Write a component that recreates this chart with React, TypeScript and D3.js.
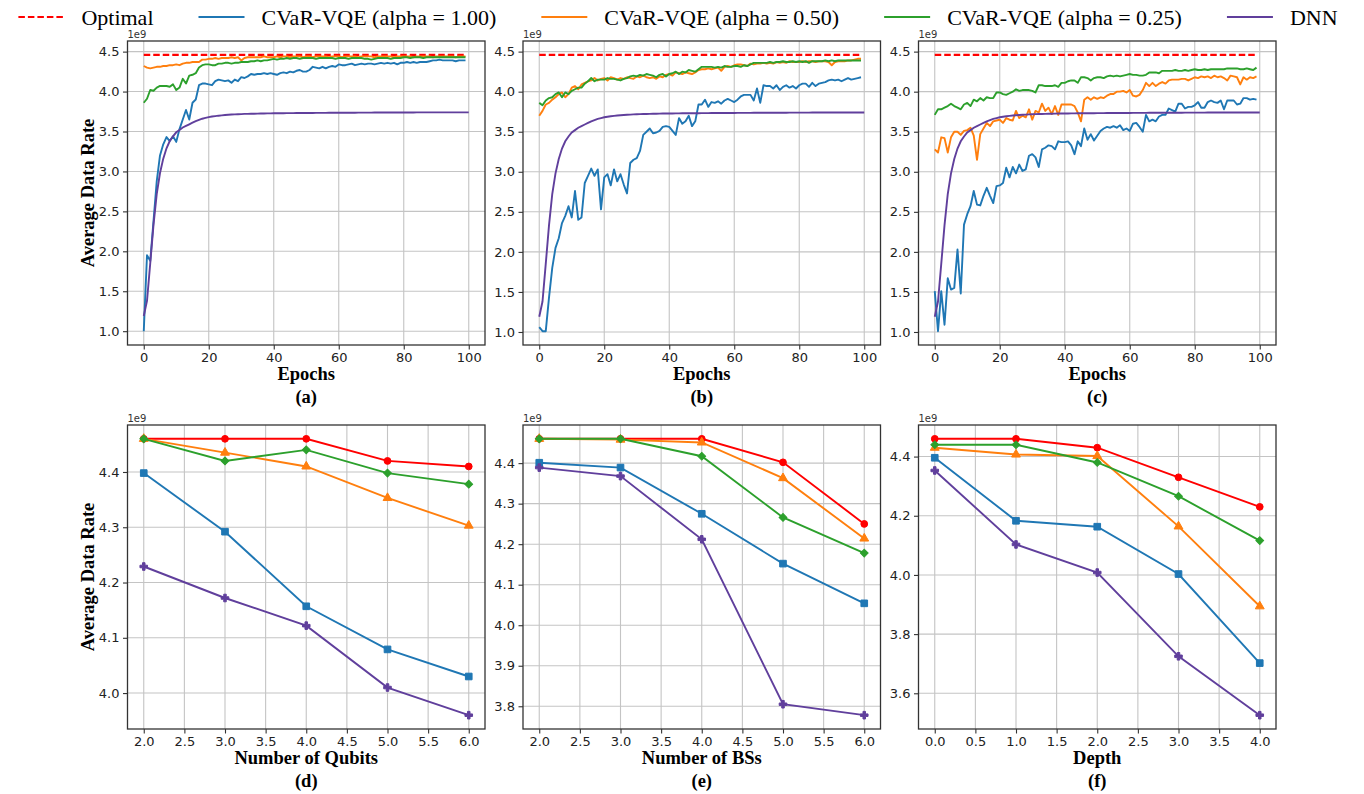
import React, { useEffect, useRef } from 'react';
import * as d3 from 'd3';

// ---- data (values in units of 1e9) ----
const OPTIMAL_RATE = 4.46;

// DNN training curve, same in panels (a)-(c), epochs 0..100
const DNN_CURVE = [
  1.19, 1.38, 1.85, 2.33, 2.72, 2.98, 3.16, 3.29, 3.38, 3.44,
  3.49, 3.52, 3.55, 3.57, 3.59, 3.61, 3.63, 3.645, 3.66, 3.67,
  3.68, 3.687, 3.693, 3.698, 3.702, 3.706, 3.709, 3.712, 3.714, 3.716,
  3.718, 3.72, 3.721, 3.722, 3.723, 3.724, 3.725, 3.726, 3.727, 3.727,
  3.728, 3.728, 3.729, 3.729, 3.73, 3.73, 3.73, 3.731, 3.731, 3.731,
  3.732, 3.732, 3.732, 3.733, 3.733, 3.733, 3.733, 3.734, 3.734, 3.734,
  3.734, 3.735, 3.735, 3.735, 3.735, 3.735, 3.736, 3.736, 3.736, 3.736,
  3.736, 3.737, 3.737, 3.737, 3.737, 3.737, 3.737, 3.738, 3.738, 3.738,
  3.738, 3.738, 3.738, 3.738, 3.739, 3.739, 3.739, 3.739, 3.739, 3.739,
  3.739, 3.739, 3.74, 3.74, 3.74, 3.74, 3.74, 3.74, 3.74, 3.74, 3.74,
];

// panel (a)
const BLUE_A = [
  1.00, 1.95, 1.88, 2.38, 2.88, 3.20, 3.34, 3.43, 3.38, 3.44,
  3.37, 3.53, 3.65, 3.77, 3.65, 3.86, 3.90, 4.08, 4.10, 4.10,
  4.09, 4.08, 4.13, 4.15, 4.14, 4.13, 4.14, 4.11, 4.15, 4.13,
  4.18, 4.17, 4.19, 4.22, 4.21, 4.22, 4.22, 4.23, 4.22, 4.23,
  4.22, 4.21, 4.23, 4.24, 4.23, 4.25, 4.24, 4.26, 4.27, 4.25,
  4.25, 4.27, 4.31, 4.30, 4.29, 4.31, 4.29, 4.31, 4.32, 4.31,
  4.34, 4.33, 4.33, 4.34, 4.35, 4.33, 4.34, 4.35, 4.34, 4.35,
  4.35, 4.34, 4.35, 4.36, 4.35, 4.36, 4.35, 4.36, 4.34, 4.36,
  4.36, 4.37, 4.36, 4.37, 4.36, 4.37, 4.37, 4.37, 4.38, 4.39,
  4.39, 4.40, 4.39, 4.39, 4.39, 4.39, 4.38, 4.39, 4.39, 4.39,
];
const ORANGE_A = [
  4.32, 4.30, 4.29, 4.30, 4.31, 4.31, 4.32, 4.32, 4.33, 4.33,
  4.34, 4.33, 4.35, 4.36, 4.36, 4.37, 4.37, 4.37, 4.40, 4.40,
  4.41, 4.41, 4.42, 4.41, 4.42, 4.42, 4.42, 4.43, 4.42, 4.43,
  4.39, 4.42, 4.43, 4.43, 4.43, 4.43, 4.43, 4.44, 4.43, 4.43,
  4.43, 4.44, 4.43, 4.44, 4.44, 4.43, 4.44, 4.44, 4.44, 4.43,
  4.44, 4.44, 4.43, 4.44, 4.44, 4.44, 4.44, 4.43, 4.44, 4.44,
  4.44, 4.43, 4.44, 4.44, 4.44, 4.44, 4.43, 4.44, 4.44, 4.44,
  4.44, 4.43, 4.44, 4.44, 4.44, 4.44, 4.44, 4.43, 4.44, 4.44,
  4.44, 4.44, 4.44, 4.43, 4.44, 4.44, 4.44, 4.44, 4.44, 4.43,
  4.44, 4.44, 4.44, 4.44, 4.44, 4.44, 4.43, 4.44, 4.44, 4.44,
];
const GREEN_A = [
  3.86, 3.91, 4.02, 4.01, 4.05, 4.07, 4.07, 4.07, 4.06, 4.09,
  4.02, 4.05, 4.16, 4.10, 4.20, 4.21, 4.23, 4.30, 4.33, 4.34,
  4.34, 4.33, 4.33, 4.35, 4.35, 4.36, 4.36, 4.35, 4.36, 4.36,
  4.37, 4.37, 4.37, 4.38, 4.38, 4.39, 4.38, 4.39, 4.39, 4.40,
  4.41, 4.40, 4.41, 4.41, 4.42, 4.41, 4.42, 4.42, 4.41, 4.42,
  4.42, 4.42, 4.42, 4.41, 4.42, 4.42, 4.42, 4.42, 4.42, 4.41,
  4.42, 4.42, 4.42, 4.41, 4.42, 4.42, 4.42, 4.42, 4.41, 4.41,
  4.40, 4.41, 4.42, 4.42, 4.42, 4.42, 4.41, 4.42, 4.42, 4.42,
  4.43, 4.43, 4.42, 4.43, 4.43, 4.43, 4.42, 4.43, 4.43, 4.43,
  4.43, 4.43, 4.43, 4.43, 4.43, 4.43, 4.43, 4.43, 4.43, 4.43,
];

// panel (b)
const BLUE_B = [
  1.06, 1.01, 1.01, 1.43, 1.80, 2.05, 2.17, 2.36, 2.45, 2.57,
  2.43, 2.76, 2.40, 2.43, 2.86, 2.95, 3.04, 2.95, 3.03, 2.53,
  2.93, 2.97, 2.83, 3.03, 2.88, 2.97, 2.84, 2.73, 3.11, 3.15,
  3.17, 3.26, 3.46, 3.50, 3.54, 3.48, 3.49, 3.51, 3.56, 3.57,
  3.56, 3.51, 3.46, 3.67, 3.60, 3.63, 3.70, 3.57, 3.63, 3.84,
  3.84, 3.90, 3.81, 3.87, 3.86, 3.88, 3.85, 3.89, 3.91, 3.89,
  3.87, 3.90, 3.94, 3.96, 3.96, 3.96, 3.89, 4.04, 3.86, 4.08,
  4.07, 4.07, 4.04, 4.08, 4.02, 4.06, 4.08, 4.05, 4.07, 4.04,
  4.08, 4.10, 4.10, 4.06, 4.11, 4.07, 4.10, 4.11, 4.12, 4.14,
  4.15, 4.14, 4.15, 4.13, 4.15, 4.17, 4.15, 4.16, 4.17, 4.18,
];
const ORANGE_B = [
  3.70, 3.76, 3.84, 3.86, 3.90, 3.93, 3.97, 3.99, 3.93, 3.97,
  4.05, 4.07, 4.03, 4.09, 4.11, 4.13, 4.14, 4.17, 4.14, 4.16,
  4.17, 4.14, 4.18, 4.17, 4.15, 4.17, 4.16, 4.18, 4.17, 4.16,
  4.19, 4.18, 4.20, 4.18, 4.17, 4.18, 4.16, 4.19, 4.18, 4.21,
  4.22, 4.20, 4.24, 4.23, 4.22, 4.24, 4.23, 4.22, 4.24, 4.27,
  4.28, 4.28, 4.29, 4.28, 4.29, 4.30, 4.26, 4.31, 4.32, 4.31,
  4.33, 4.34, 4.34, 4.33, 4.32, 4.35, 4.34, 4.35, 4.35, 4.36,
  4.35, 4.36, 4.35, 4.37, 4.36, 4.37, 4.36, 4.38, 4.37, 4.37,
  4.37, 4.38, 4.37, 4.38, 4.38, 4.37, 4.38, 4.38, 4.38, 4.37,
  4.33, 4.37, 4.38, 4.38, 4.38, 4.39, 4.39, 4.40, 4.41, 4.41,
];
const GREEN_B = [
  3.86, 3.83, 3.89, 3.92, 3.93, 3.97, 3.99, 3.93, 3.99, 3.97,
  4.01, 4.03, 4.05, 4.05, 4.10, 4.13, 4.17, 4.13, 4.15, 4.15,
  4.15, 4.17, 4.16, 4.16, 4.15, 4.14, 4.16, 4.17, 4.19, 4.20,
  4.19, 4.21, 4.20, 4.22, 4.21, 4.20, 4.18, 4.21, 4.22, 4.19,
  4.22, 4.23, 4.25, 4.22, 4.25, 4.24, 4.27, 4.26, 4.25, 4.28,
  4.31, 4.31, 4.31, 4.31, 4.30, 4.31, 4.30, 4.32, 4.31, 4.31,
  4.32, 4.32, 4.31, 4.33, 4.32, 4.34, 4.36, 4.36, 4.36, 4.36,
  4.36, 4.37, 4.36, 4.37, 4.37, 4.38, 4.37, 4.37, 4.38, 4.37,
  4.38, 4.37, 4.38, 4.36, 4.38, 4.38, 4.38, 4.38, 4.39, 4.38,
  4.39, 4.38, 4.39, 4.39, 4.39, 4.39, 4.39, 4.39, 4.39, 4.39,
];

// panel (c)
const BLUE_C = [
  1.51, 1.01, 1.51, 1.09, 1.67, 1.53, 1.55, 2.03, 1.48, 2.34,
  2.47, 2.57, 2.76, 2.59, 2.58, 2.70, 2.80, 2.70, 2.61, 2.82,
  2.83, 2.86, 3.05, 2.93, 3.06, 2.98, 3.09, 3.01, 3.03, 3.20,
  3.22, 3.18, 3.06, 3.28, 3.30, 3.33, 3.32, 3.28, 3.38, 3.37,
  3.37, 3.38, 3.33, 3.22, 3.38, 3.32, 3.54, 3.40, 3.47, 3.39,
  3.45, 3.51, 3.54, 3.56, 3.55, 3.57, 3.55, 3.58, 3.52, 3.54,
  3.51, 3.60, 3.61, 3.56, 3.50, 3.71, 3.63, 3.65, 3.63, 3.69,
  3.71, 3.71, 3.79, 3.77, 3.75, 3.85, 3.85, 3.79, 3.81, 3.81,
  3.83, 3.87, 3.80, 3.80, 3.87, 3.89, 3.87, 3.86, 3.89, 3.78,
  3.89, 3.89, 3.89, 3.84, 3.85, 3.92, 3.92, 3.90, 3.91, 3.90,
];
const ORANGE_C = [
  3.28, 3.24, 3.43, 3.42, 3.24, 3.43, 3.50, 3.50, 3.46, 3.51,
  3.52, 3.55, 3.45, 3.15, 3.47, 3.54, 3.61, 3.57, 3.63, 3.64,
  3.65, 3.61, 3.67, 3.65, 3.64, 3.76, 3.67, 3.70, 3.68, 3.78,
  3.65, 3.76, 3.74, 3.85, 3.76, 3.80, 3.72, 3.82, 3.71, 3.84,
  3.84, 3.84, 3.84, 3.82, 3.74, 3.63, 3.90, 3.93, 3.90, 3.93,
  3.91, 3.93, 3.92, 3.95, 3.97, 3.97, 4.00, 4.00, 4.01, 3.99,
  4.02, 3.95, 3.94, 3.96, 4.02, 4.11, 4.07, 4.11, 4.07, 4.10,
  4.12, 4.10, 4.14, 4.15, 4.15, 4.15, 4.16, 4.16, 4.14, 4.16,
  4.18, 4.17, 4.19, 4.18, 4.19, 4.17, 4.20, 4.18, 4.19, 4.17,
  4.14, 4.20, 4.19, 4.18, 4.09, 4.18, 4.15, 4.18, 4.17, 4.19,
];
const GREEN_C = [
  3.71, 3.78, 3.78, 3.80, 3.82, 3.85, 3.82, 3.80, 3.78, 3.84,
  3.86, 3.82, 3.90, 3.88, 3.92, 3.89, 3.93, 3.92, 3.92, 3.99,
  3.99, 3.97, 3.96, 3.98, 4.00, 4.03, 4.01, 4.02, 4.02, 4.02,
  4.01, 3.99, 4.08, 4.08, 4.07, 4.07, 4.07, 4.08, 4.06, 4.11,
  4.11, 4.13, 4.14, 4.14, 4.11, 4.18, 4.18, 4.17, 4.14, 4.17,
  4.18, 4.18, 4.17, 4.19, 4.20, 4.19, 4.20, 4.19, 4.20, 4.21,
  4.22, 4.21, 4.21, 4.20, 4.20, 4.21, 4.24, 4.24, 4.24, 4.23,
  4.26, 4.26, 4.26, 4.26, 4.27, 4.26, 4.26, 4.27, 4.26, 4.27,
  4.28, 4.27, 4.27, 4.28, 4.27, 4.28, 4.28, 4.28, 4.28, 4.28,
  4.29, 4.29, 4.29, 4.29, 4.28, 4.28, 4.29, 4.28, 4.27, 4.30,
];

// panel (d): number of qubits
const QUBITS = [2, 3, 4, 5, 6];
const OPT_D = [4.46, 4.46, 4.46, 4.42, 4.41];
const BLUE_D = [4.398, 4.292, 4.157, 4.079, 4.030];
const ORANGE_D = [4.46, 4.435, 4.41, 4.353, 4.303];
const GREEN_D = [4.46, 4.42, 4.44, 4.398, 4.378];
const DNN_D = [4.229, 4.172, 4.122, 4.010, 3.960];

// panel (e): number of BSs
const BSS = [2, 3, 4, 5, 6];
const OPT_E = [4.46, 4.46, 4.46, 4.402, 4.25];
const BLUE_E = [4.401, 4.389, 4.275, 4.152, 4.054];
const ORANGE_E = [4.46, 4.458, 4.451, 4.363, 4.214];
const GREEN_E = [4.46, 4.46, 4.417, 4.266, 4.178];
const DNN_E = [4.389, 4.368, 4.212, 3.805, 3.778];

// panel (f): depth
const DEPTH = [0, 1, 2, 3, 4];
const OPT_F = [4.46, 4.46, 4.43, 4.33, 4.23];
const BLUE_F = [4.396, 4.183, 4.163, 4.003, 3.702];
const ORANGE_F = [4.43, 4.407, 4.402, 4.164, 3.894];
const GREEN_F = [4.44, 4.44, 4.38, 4.266, 4.116];
const DNN_F = [4.353, 4.103, 4.008, 3.725, 3.526];

// tick labels
const EPOCH_TICKS = [0, 20, 40, 60, 80, 100];
const RATE_TICKS = [1.0, 1.5, 2.0, 2.5, 3.0, 3.5, 4.0, 4.5];
const QUBIT_TICKS = [2.0, 2.5, 3.0, 3.5, 4.0, 4.5, 5.0, 5.5, 6.0];
const DEPTH_TICKS = [0.0, 0.5, 1.0, 1.5, 2.0, 2.5, 3.0, 3.5, 4.0];
const Y_TICKS_D = [4.0, 4.1, 4.2, 4.3, 4.4];
const Y_TICKS_E = [3.8, 3.9, 4.0, 4.1, 4.2, 4.3, 4.4];
const Y_TICKS_F = [3.6, 3.8, 4.0, 4.2, 4.4];

const SERIES_LABELS = ['Optimal', 'CVaR-VQE (alpha = 1.00)', 'CVaR-VQE (alpha = 0.50)', 'CVaR-VQE (alpha = 0.25)', 'DNN'];
const SERIES_COLORS = ['#ff0000', '#1f77b4', '#ff7f0e', '#2ca02c', '#603f9c'];

// ---- layout ----
const FIG_W = 1364;
const FIG_H = 794;
const COL_LEFT = [127.5, 523, 918.5];
const PANEL_W = 357.5;
const ROW_TOP = [41, 425];
const PANEL_H = 304;
const SERIF = '"Liberation Serif", "Times New Roman", serif';
const SANS = '"DejaVu Sans", sans-serif';

type Sel = d3.Selection<SVGGElement, unknown, null, undefined>;

const padDomain = (vals: number[]): [number, number] => {
  const [lo, hi] = d3.extent(vals) as [number, number];
  const p = (hi - lo) * 0.05;
  return [lo - p, hi + p];
};

function drawGrid(g: Sel, x: d3.ScaleLinear<number, number>, y: d3.ScaleLinear<number, number>, xt: number[], yt: number[]) {
  g.append('g').selectAll('line').data(xt).join('line')
    .attr('x1', d => x(d)).attr('x2', d => x(d))
    .attr('y1', 0).attr('y2', PANEL_H)
    .attr('stroke', '#c4c4c4').attr('stroke-width', 1.1);
  g.append('g').selectAll('line').data(yt).join('line')
    .attr('x1', 0).attr('x2', PANEL_W)
    .attr('y1', d => y(d)).attr('y2', d => y(d))
    .attr('stroke', '#c4c4c4').attr('stroke-width', 1.1);
}

function drawFrame(
  g: Sel, x: d3.ScaleLinear<number, number>, y: d3.ScaleLinear<number, number>,
  xt: number[], yt: number[], xFmt: (d: number) => string, yFmt: (d: number) => string,
  xLabel: string, caption: string, yLabel: string | null
) {
  const xa = g.append('g')
    .attr('transform', `translate(0,${PANEL_H})`)
    .call(d3.axisBottom(x).tickValues(xt).tickFormat(d => xFmt(d as number)).tickSize(4.5).tickPadding(3.5));
  const ya = g.append('g')
    .call(d3.axisLeft(y).tickValues(yt).tickFormat(d => yFmt(d as number)).tickSize(4.5).tickPadding(3.5));
  [xa, ya].forEach(a => {
    a.select('.domain').remove();
    a.attr('font-family', SANS).attr('font-size', 13);
    a.selectAll('line').attr('stroke', '#333').attr('stroke-width', 1.1);
    a.selectAll('text').attr('fill', '#222');
  });

  g.append('rect')
    .attr('width', PANEL_W).attr('height', PANEL_H)
    .attr('fill', 'none').attr('stroke', '#333').attr('stroke-width', 1.3);

  g.append('text')
    .attr('x', 0).attr('y', -3)
    .attr('font-family', SANS).attr('font-size', 10).attr('fill', '#333')
    .text('1e9');

  g.append('text')
    .attr('x', PANEL_W / 2).attr('y', PANEL_H + 35)
    .attr('text-anchor', 'middle')
    .attr('font-family', SERIF).attr('font-weight', 'bold').attr('font-size', 18.5)
    .text(xLabel);

  g.append('text')
    .attr('x', PANEL_W / 2).attr('y', PANEL_H + 58)
    .attr('text-anchor', 'middle')
    .attr('font-family', SERIF).attr('font-weight', 'bold').attr('font-size', 18.5)
    .text(caption);

  if (yLabel) {
    g.append('text')
      .attr('transform', `translate(-34,${PANEL_H / 2}) rotate(-90)`)
      .attr('text-anchor', 'middle')
      .attr('font-family', SERIF).attr('font-weight', 'bold').attr('font-size', 18.5)
      .text(yLabel);
  }
}

const App: React.FC = () => {
  const svgRef = useRef<SVGSVGElement>(null);

  useEffect(() => {
    if (!svgRef.current) return;
    const svg = d3.select(svgRef.current);
    svg.selectAll('*').remove();

    svg.append('rect').attr('width', FIG_W).attr('height', FIG_H).attr('fill', '#fff');

    // ---- top row: training curves ----
    const topPanels = [
      { caption: '(a)', series: [BLUE_A, ORANGE_A, GREEN_A] },
      { caption: '(b)', series: [BLUE_B, ORANGE_B, GREEN_B] },
      { caption: '(c)', series: [BLUE_C, ORANGE_C, GREEN_C] },
    ];

    topPanels.forEach((p, i) => {
      const g = svg.append('g').attr('transform', `translate(${COL_LEFT[i]},${ROW_TOP[0]})`) as unknown as Sel;
      const xMax = DNN_CURVE.length - 1;
      const x = d3.scaleLinear().domain([-xMax * 0.05, xMax * 1.05]).range([0, PANEL_W]);
      const allY = [OPTIMAL_RATE, ...DNN_CURVE, ...p.series.flat()];
      const y = d3.scaleLinear().domain(padDomain(allY)).range([PANEL_H, 0]);

      drawGrid(g, x, y, EPOCH_TICKS, RATE_TICKS);

      const line = d3.line<number>().x((_, k) => x(k)).y(d => y(d));
      const optimal = p.series[0].map(() => OPTIMAL_RATE);

      g.append('path').datum(optimal)
        .attr('d', line).attr('fill', 'none')
        .attr('stroke', SERIES_COLORS[0]).attr('stroke-width', 2.2)
        .attr('stroke-dasharray', '6.5,3');

      p.series.forEach((s, k) => {
        g.append('path').datum(s)
          .attr('d', line).attr('fill', 'none')
          .attr('stroke', SERIES_COLORS[k + 1]).attr('stroke-width', 1.9)
          .attr('stroke-linejoin', 'round');
      });

      g.append('path').datum(DNN_CURVE)
        .attr('d', line).attr('fill', 'none')
        .attr('stroke', SERIES_COLORS[4]).attr('stroke-width', 1.9);

      drawFrame(g, x, y, EPOCH_TICKS, RATE_TICKS, d => String(d), d3.format('.1f'),
        'Epochs', p.caption, i === 0 ? 'Average Data Rate' : null);
    });

    // ---- bottom row: parameter sweeps ----
    const markerSymbols = [d3.symbolCircle, d3.symbolSquare, d3.symbolTriangle, d3.symbolSquare, d3.symbolCross];
    const markerSizes = [36, 44, 34, 30, 32];
    const markerRotate = [0, 0, 0, 45, 0];

    const bottomPanels = [
      { caption: '(d)', xLabel: 'Number of Qubits', xs: QUBITS, xt: QUBIT_TICKS, yt: Y_TICKS_D,
        series: [OPT_D, BLUE_D, ORANGE_D, GREEN_D, DNN_D] },
      { caption: '(e)', xLabel: 'Number of BSs', xs: BSS, xt: QUBIT_TICKS, yt: Y_TICKS_E,
        series: [OPT_E, BLUE_E, ORANGE_E, GREEN_E, DNN_E] },
      { caption: '(f)', xLabel: 'Depth', xs: DEPTH, xt: DEPTH_TICKS, yt: Y_TICKS_F,
        series: [OPT_F, BLUE_F, ORANGE_F, GREEN_F, DNN_F] },
    ];

    bottomPanels.forEach((p, i) => {
      const g = svg.append('g').attr('transform', `translate(${COL_LEFT[i]},${ROW_TOP[1]})`) as unknown as Sel;
      const x = d3.scaleLinear().domain(padDomain(p.xs)).range([0, PANEL_W]);
      const y = d3.scaleLinear().domain(padDomain(p.series.flat())).range([PANEL_H, 0]);

      drawGrid(g, x, y, p.xt, p.yt);

      const line = d3.line<number>().x((_, k) => x(p.xs[k])).y(d => y(d));

      p.series.forEach((s, k) => {
        g.append('path').datum(s)
          .attr('d', line).attr('fill', 'none')
          .attr('stroke', SERIES_COLORS[k]).attr('stroke-width', 1.9);

        const sym = d3.symbol().type(markerSymbols[k]).size(markerSizes[k]);
        g.append('g').selectAll('path').data(s).join('path')
          .attr('d', sym() as string)
          .attr('transform', (d, j) => `translate(${x(p.xs[j])},${y(d)}) rotate(${markerRotate[k]})`)
          .attr('fill', SERIES_COLORS[k])
          .attr('stroke', SERIES_COLORS[k]).attr('stroke-width', 1);
      });

      drawFrame(g, x, y, p.xt, p.yt, d3.format('.1f'), d3.format('.1f'),
        p.xLabel, p.caption, i === 0 ? 'Average Data Rate' : null);
    });

    // ---- legend across the top ----
    const legend = svg.append('g');
    const handleLen = 46;
    const textPad = 17;
    const colGap = 45;
    const legendY = 17;
    let cursor = 0;
    SERIES_LABELS.forEach((label, k) => {
      const item = legend.append('g').attr('transform', `translate(${cursor},0)`);
      item.append('line')
        .attr('x1', 0).attr('x2', handleLen)
        .attr('y1', legendY).attr('y2', legendY)
        .attr('stroke', SERIES_COLORS[k]).attr('stroke-width', 2.2)
        .attr('stroke-dasharray', k === 0 ? '6.5,3' : null);
      const t = item.append('text')
        .attr('x', handleLen + textPad).attr('y', legendY)
        .attr('dy', '0.35em')
        .attr('font-family', SERIF).attr('font-size', 22)
        .text(label);
      const w = (t.node() as SVGTextElement).getComputedTextLength();
      cursor += handleLen + textPad + w + colGap;
    });
    const total = cursor - colGap;
    legend.attr('transform', `translate(${678 - total / 2},0)`);
  }, []);

  return (
    <svg
      ref={svgRef}
      width={FIG_W}
      height={FIG_H}
      style={{ position: 'absolute', left: 0, top: 0, display: 'block' }}
    />
  );
};

export default App;
